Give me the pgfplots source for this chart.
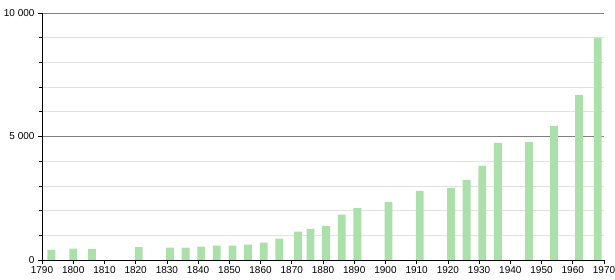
\documentclass[border=0pt]{standalone}
\usepackage{pgfplots}
\pgfplotsset{compat=1.18}
\usepackage{fontspec}
\setmainfont{Liberation Sans}
\definecolor{barg}{RGB}{171,224,171}
\definecolor{majg}{RGB}{128,128,128}
\definecolor{ming}{RGB}{226,226,226}
\begin{document}
\fontsize{10}{12}\selectfont
\begin{tikzpicture}
\path[use as bounding box] (-42pt,-20pt) rectangle (573pt,260pt);
\begin{axis}[
  at={(0,0)}, anchor=south west,
  scale only axis, width=562pt, height=247pt,
  xmin=1790, xmax=1970, ymin=0, ymax=10000,
  axis x line=bottom, axis y line=left,
  axis line style={-, black, line width=0.9pt},
  xtick={1790,1800,...,1970},
  ytick={0,5000,10000},
  yticklabels={0,5\ 000,10\ 000},
  scaled y ticks=false,
  minor ytick={1000,2000,3000,4000,6000,7000,8000,9000},
  tick align=outside,
  major tick length=4pt, minor tick length=3.5pt,
  tick style={black, line width=0.7pt},
  minor tick style={black, line width=0.7pt},
  ymajorgrids, yminorgrids,
  major grid style={majg, line width=0.8pt},
  minor grid style={ming, line width=0.6pt},
  /pgf/number format/assume math mode=true,
  /pgf/number format/1000 sep={},
  xticklabel style={font=\fontsize{10}{12}\selectfont, yshift=1pt},
  yticklabel style={font=\fontsize{10}{12}\selectfont},
  ybar, bar width=2.5, bar shift=0pt,
  clip=false,
]
\addplot[fill=barg, draw=none] coordinates {
(1793,405) (1800,457) (1806,450) (1821,526) (1831,500) (1836,500)
(1841,540) (1846,580) (1851,580) (1856,620) (1861,700) (1866,862)
(1872,1146) (1876,1255) (1881,1376) (1886,1834) (1891,2105) (1901,2348)
(1911,2794) (1921,2915) (1926,3239) (1931,3806) (1936,4737) (1946,4777)
(1954,5425) (1962,6680) (1968,8988)
};
\end{axis}
\end{tikzpicture}
\end{document}
